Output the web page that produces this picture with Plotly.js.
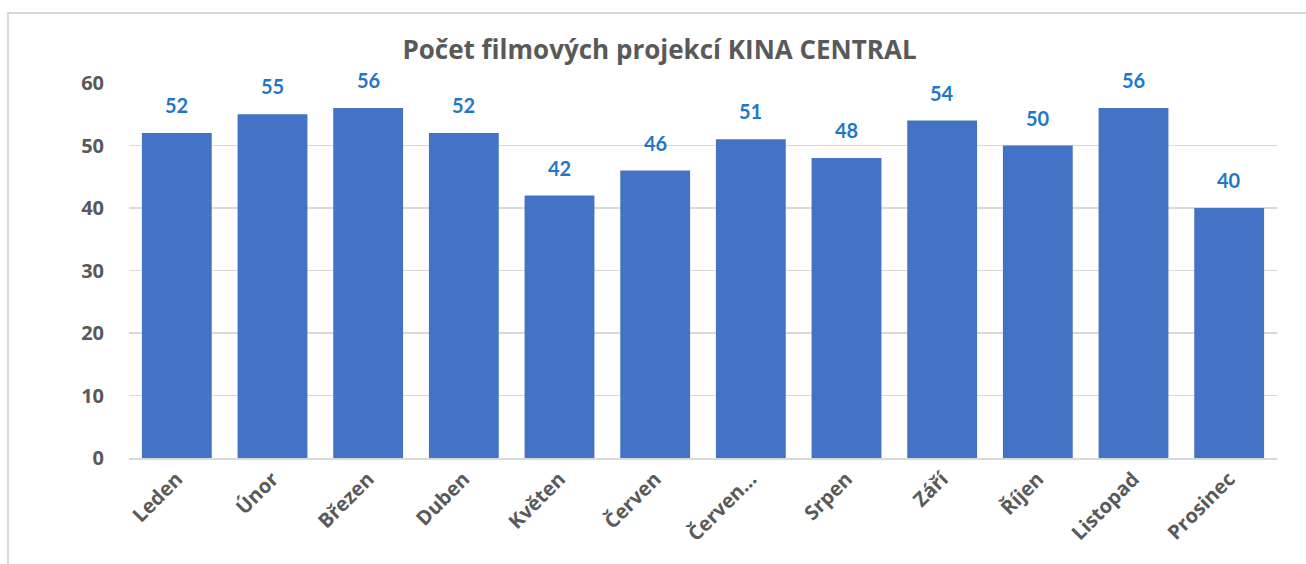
<!DOCTYPE html>
<html>
<head>
<meta charset="utf-8">
<script src="https://cdn.plot.ly/plotly-3.0.1.min.js"></script>
<style>
  html, body { margin: 0; padding: 0; background: #ffffff; }
  #chart { width: 1306px; height: 564px; }
  #frame { position: absolute; left: 7px; top: 12px; width: 1299px; height: 552px;
           border-top: 2px solid #d9d9d9; border-left: 2px solid #d9d9d9; pointer-events: none; box-sizing: border-box; }
</style>
</head>
<body>
<div id="chart"></div>
<div id="frame"></div>
<script>
const months = ["Leden", "Únor", "Březen", "Duben", "Květen", "Červen", "Červen...", "Srpen", "Září", "Říjen", "Listopad", "Prosinec"];
const screenings = [52, 55, 56, 52, 42, 46, 51, 48, 54, 50, 56, 40];
const yTicks = [0, 10, 20, 30, 40, 50, 60];
const chartTitle = "Počet filmových projekcí KINA CENTRAL";

const fontFamily = "'Open Sans', Lato, sans-serif";
const labelFamily = "Lato, 'Open Sans', sans-serif";

const trace = {
  type: "bar",
  x: months,
  y: screenings,
  marker: { color: "#4472C4" },
  hoverinfo: "x+y"
};

const annotations = months.map((m, i) => ({
  x: m,
  y: screenings[i],
  xref: "x",
  yref: "y",
  text: String(screenings[i]),
  showarrow: false,
  yanchor: "bottom",
  yshift: 14,
  font: { family: labelFamily, size: 20, color: "#1f77c9", weight: "bold" }
}));

const layout = {
  width: 1306,
  height: 564,
  margin: { l: 129, r: 29, t: 83, b: 106 },
  paper_bgcolor: "#ffffff",
  plot_bgcolor: "#ffffff",
  showlegend: false,
  bargap: 0.27,
  title: {
    text: chartTitle,
    x: 0.505,
    xanchor: "center",
    xref: "container",
    y: 1 - 50 / 564,
    yanchor: "middle",
    yref: "container",
    font: { family: fontFamily, size: 26, color: "#595959", weight: "bold" }
  },
  xaxis: {
    type: "category",
    tickangle: -45,
    tickfont: { family: fontFamily, size: 20, color: "#595959", weight: "bold" },
    showgrid: false,
    showline: true,
    linecolor: "#d9d9d9",
    linewidth: 1.5,
    ticks: "",
    zeroline: false
  },
  yaxis: {
    range: [0, 60],
    tickvals: yTicks,
    ticktext: yTicks.map(String),
    tickfont: { family: fontFamily, size: 20, color: "#595959", weight: "bold" },
    showgrid: true,
    gridcolor: "#d9d9d9",
    gridwidth: 1.5,
    zeroline: false,
    showline: false,
    ticks: "",
    ticklabelstandoff: 24
  },
  annotations: annotations
};

Plotly.newPlot("chart", [trace], layout, { displayModeBar: false, staticPlot: true });
</script>
</body>
</html>
